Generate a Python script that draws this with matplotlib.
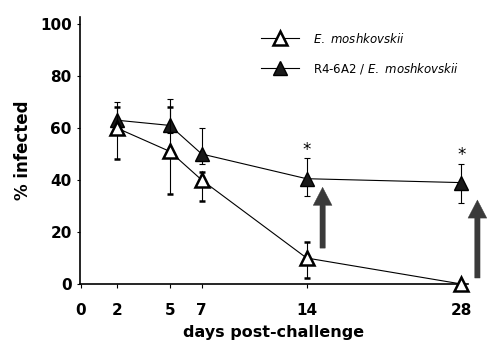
import numpy as np
import matplotlib
matplotlib.use("Agg")
import matplotlib.pyplot as plt

plt.rcParams["mathtext.fontset"] = "custom"
plt.rcParams["mathtext.it"] = "DejaVu Sans:italic"

days = [2, 5, 7, 14, 28]

# E. moshkovskii alone (open triangles)
open_mean = [60, 51, 40, 10, 0]
open_lo = [48, 34.5, 32, 2.5, 0]
open_hi = [68, 68, 43, 16, 0]

# R4-6A2 / E. moshkovskii (filled triangles)
fill_mean = [63, 61, 50, 40.5, 39]
fill_lo = [60, 58, 46, 34, 31]
fill_hi = [70, 71, 60, 48.5, 46]

xticks = [0, 2, 5, 7, 14, 28]
yticks = [0, 20, 40, 60, 80, 100]

# the original x axis is stretched unevenly, so use a piecewise scale
knot_days = [-10, 0, 2, 5, 7, 14, 28, 40]
knot_pos = [-180, 0, 36, 89, 121, 226, 381, 514]
fwd = lambda d: np.interp(d, knot_days, knot_pos)
inv = lambda p: np.interp(p, knot_pos, knot_days)

fig = plt.figure(figsize=(4.96, 3.47), dpi=100)
ax = fig.add_axes([80 / 496, 63 / 347, 388 / 496, 267 / 347])
ax.set_xscale("function", functions=(fwd, inv))

def err(mean, lo, hi):
    return [np.array(mean) - np.array(lo), np.array(hi) - np.array(mean)]

eb_fill = ax.errorbar(days, fill_mean, yerr=err(fill_mean, fill_lo, fill_hi), color="black",
                      lw=0.8, elinewidth=0.8, capsize=2.5, capthick=0.8, marker="^", ms=9.5,
                      mfc="#1a1a1a", mec="black", clip_on=False, zorder=3)
eb_open = ax.errorbar(days, open_mean, yerr=err(open_mean, open_lo, open_hi), color="black",
                      lw=0.8, elinewidth=0.8, capsize=2.5, capthick=0.8, marker="^", ms=9.5,
                      mfc="white", mec="black", mew=1.8, clip_on=False, zorder=4)

# significance stars
ax.text(14, 51.5, "*", ha="center", va="center", fontsize=12)
ax.text(28, 49.5, "*", ha="center", va="center", fontsize=12)

# gray arrows
for x, y0, y1 in [(15.45, 13.8, 37.2), (29.45, 2.3, 32.3)]:
    ax.annotate("", xy=(x, y1), xytext=(x, y0), annotation_clip=False,
                arrowprops=dict(arrowstyle="simple,head_length=1.3,head_width=1.35,tail_width=0.38",
                                fc="#3a3a3a", ec="#3a3a3a", lw=0.3, shrinkA=0, shrinkB=0,
                                mutation_scale=10))

ax.set_xlim(-0.05, 28.6)
ax.set_ylim(0, 102.7)
ax.set_xticks(xticks)
ax.set_yticks(yticks)
ax.set_xticklabels([str(t) for t in xticks], fontsize=11, fontweight="bold")
ax.set_yticklabels([str(t) for t in yticks], fontsize=11, fontweight="bold")
ax.tick_params(axis="x", length=3, width=0.8, pad=11)
ax.tick_params(axis="y", length=2, width=0.8, pad=4)
ax.spines["top"].set_visible(False)
ax.spines["right"].set_visible(False)
ax.spines["left"].set_linewidth(1.2)
ax.spines["bottom"].set_linewidth(1.2)

ax.set_xlabel("days post-challenge", fontsize=11.5, fontweight="bold", labelpad=5)
ax.set_ylabel("% infected", fontsize=12, fontweight="bold", labelpad=6)

ax.legend([eb_open[0], eb_fill[0]],
          [r"$\mathit{E.\ moshkovskii}$", r"R4-6A2 / $\mathit{E.\ moshkovskii}$"],
          loc="upper left", bbox_to_anchor=(0.44, 0.985),
          frameon=False, handlelength=3.2, handletextpad=1.2, labelspacing=1.3,
          fontsize=8.5)

plt.savefig("out.png", dpi=100)
